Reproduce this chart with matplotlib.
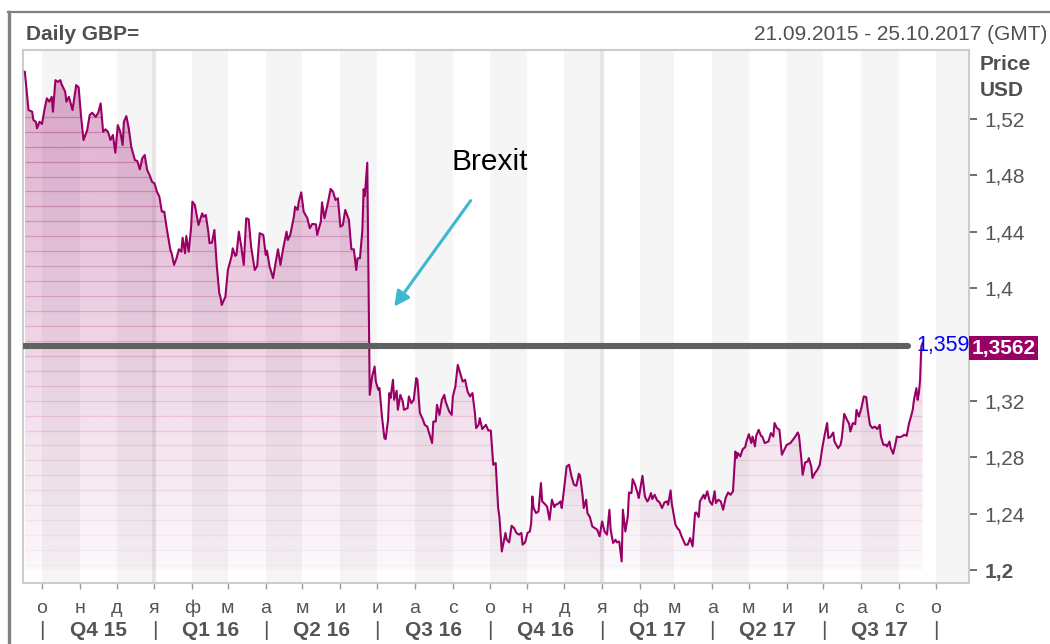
import numpy as np
import matplotlib
matplotlib.use('Agg')
import matplotlib.pyplot as plt
import matplotlib.transforms as mtransforms
from matplotlib.lines import Line2D
from matplotlib.patches import Polygon

plt.rcParams['font.family'] = ['Liberation Sans', 'DejaVu Sans']

# ---------------- data ----------------
START = np.datetime64('2015-10-01')   # day offsets below are relative to this date
day_offset = [-14, -11, -8, -7, -5, -4, -2, 0, 2, 4, 6, 8, 9, 11, 13, 15, 16, 19, 20, 22,
              25, 28, 30, 32, 34, 37, 39, 41, 44, 46, 48, 50, 52, 54, 56, 58, 60, 62, 64, 66,
              67, 69, 71, 73, 76, 78, 80, 82, 84, 86, 88, 90, 92, 94, 96, 98, 100, 102, 105, 106,
              108, 110, 112, 114, 115, 117, 118, 120, 122, 123, 125, 128, 131, 132, 134, 136, 137, 139, 141, 143,
              145, 146, 147, 150, 152, 155, 156, 158, 159, 161, 163, 165, 167, 169, 171, 174, 176, 178, 181, 183,
              184, 186, 189, 191, 193, 195, 197, 200, 201, 203, 206, 207, 209, 210, 212, 214, 217, 219, 221, 224,
              225, 228, 229, 231, 234, 236, 238, 240, 242, 244, 246, 248, 251, 253, 255, 257, 258, 260, 262, 263,
              264, 266, 268, 270, 272, 273, 275, 276, 278, 280, 281, 283, 284, 285, 287, 288, 290, 291, 293, 295,
              296, 299, 300, 302, 304, 306, 307, 309, 311, 313, 315, 317, 319, 320, 322, 323, 325, 327, 329, 330,
              333, 335, 336, 338, 340, 342, 344, 346, 348, 350, 352, 354, 355, 357, 358, 360, 363, 365, 367, 369,
              371, 373, 374, 376, 379, 380, 382, 384, 386, 388, 390, 392, 393, 395, 397, 399, 400, 401, 402, 404,
              406, 408, 409, 411, 413, 415, 417, 419, 420, 422, 424, 425, 427, 429, 431, 433, 435, 437, 439, 440,
              442, 443, 445, 446, 448, 450, 452, 454, 456, 458, 460, 462, 464, 465, 467, 469, 470, 472, 474, 475,
              477, 479, 480, 482, 483, 485, 487, 488, 491, 493, 495, 496, 498, 499, 501, 503, 505, 507, 509, 511,
              512, 514, 515, 518, 520, 521, 523, 526, 528, 530, 532, 534, 535, 537, 538, 541, 542, 544, 546, 548,
              550, 551, 553, 555, 557, 559, 561, 563, 565, 567, 568, 569, 571, 573, 575, 576, 578, 580, 581, 583,
              584, 586, 588, 589, 591, 594, 596, 598, 599, 601, 603, 605, 607, 609, 612, 614, 616, 618, 619, 621,
              622, 624, 626, 627, 629, 630, 632, 634, 636, 638, 640, 642, 643, 645, 647, 648, 651, 653, 654, 656,
              658, 660, 661, 663, 665, 666, 668, 670, 672, 674, 675, 677, 679, 681, 683, 685, 686, 688, 690, 691,
              693, 694, 696, 698, 699, 701, 703, 705, 707, 709, 710, 712, 713, 715, 716, 717, 718, 719, 720]
price = [1.5535, 1.5264, 1.5252, 1.5193, 1.5181, 1.5134, 1.5181, 1.5165, 1.5264, 1.5347, 1.5323, 1.5358, 1.5252, 1.5476, 1.5464, 1.5476, 1.5448, 1.5394, 1.5323, 1.5358,
         1.5264, 1.5441, 1.5425, 1.5216, 1.5051, 1.5122, 1.5228, 1.5245, 1.5216, 1.5245, 1.5311, 1.5110, 1.5127, 1.5110, 1.5051, 1.5087, 1.4961, 1.5157, 1.5110, 1.5016,
         1.5181, 1.5221, 1.5134, 1.5004, 1.4909, 1.4902, 1.4843, 1.4921, 1.4945, 1.4838, 1.4803, 1.4755, 1.4744, 1.4685, 1.4649, 1.4543, 1.4543, 1.4425, 1.4271, 1.4248,
         1.4165, 1.4212, 1.4276, 1.4259, 1.4358, 1.4248, 1.4370, 1.4259, 1.4436, 1.4614, 1.4590, 1.4448, 1.4531, 1.4507, 1.4519, 1.4401, 1.4319, 1.4323, 1.4413, 1.4153,
         1.3964, 1.3936, 1.3881, 1.3940, 1.4129, 1.4224, 1.4283, 1.4229, 1.4236, 1.4401, 1.4295, 1.4165, 1.4496, 1.4489, 1.4295, 1.4129, 1.4158, 1.4390, 1.4378, 1.4236,
         1.4266, 1.4158, 1.4071, 1.4177, 1.4276, 1.4165, 1.4271, 1.4401, 1.4342, 1.4378, 1.4507, 1.4578, 1.4555, 1.4614, 1.4680, 1.4543, 1.4496, 1.4425, 1.4456, 1.4453,
         1.4378, 1.4472, 1.4609, 1.4496, 1.4614, 1.4704, 1.4685, 1.4626, 1.4638, 1.4436, 1.4448, 1.4555, 1.4484, 1.4276, 1.4276, 1.4129, 1.4212, 1.4212, 1.4413, 1.4702,
         1.4654, 1.4890, 1.3243, 1.3373, 1.3444, 1.3337, 1.3279, 1.3291, 1.3089, 1.2936, 1.2929, 1.3066, 1.3255, 1.3220, 1.3350, 1.3208, 1.3272, 1.3137, 1.3243, 1.3196,
         1.3137, 1.3149, 1.3232, 1.3184, 1.3208, 1.3362, 1.3350, 1.3114, 1.3078, 1.3030, 1.3018, 1.2960, 1.2901, 1.3054, 1.3054, 1.3172, 1.3101, 1.3208, 1.3243, 1.3196,
         1.3125, 1.3101, 1.3232, 1.3302, 1.3456, 1.3397, 1.3337, 1.3350, 1.3267, 1.3232, 1.3256, 1.3113, 1.3007, 1.3030, 1.3078, 1.3000, 1.3030, 1.2990, 1.2990, 1.2747,
         1.2759, 1.2440, 1.2380, 1.2132, 1.2263, 1.2215, 1.2196, 1.2314, 1.2298, 1.2263, 1.2251, 1.2263, 1.2180, 1.2196, 1.2263, 1.2274, 1.2333, 1.2522, 1.2440, 1.2404,
         1.2416, 1.2617, 1.2487, 1.2470, 1.2451, 1.2357, 1.2499, 1.2447, 1.2463, 1.2470, 1.2487, 1.2440, 1.2582, 1.2735, 1.2747, 1.2664, 1.2605, 1.2598, 1.2683, 1.2669,
         1.2534, 1.2440, 1.2499, 1.2404, 1.2376, 1.2309, 1.2298, 1.2286, 1.2239, 1.2345, 1.2274, 1.2251, 1.2428, 1.2286, 1.2192, 1.2215, 1.2196, 1.2203, 1.2061, 1.2428,
         1.2274, 1.2380, 1.2550, 1.2546, 1.2645, 1.2605, 1.2546, 1.2511, 1.2669, 1.2522, 1.2487, 1.2499, 1.2546, 1.2504, 1.2534, 1.2494, 1.2480, 1.2440, 1.2480, 1.2487,
         1.2463, 1.2565, 1.2470, 1.2321, 1.2291, 1.2286, 1.2239, 1.2180, 1.2180, 1.2227, 1.2168, 1.2404, 1.2409, 1.2376, 1.2487, 1.2534, 1.2506, 1.2559, 1.2487, 1.2463,
         1.2559, 1.2475, 1.2499, 1.2487, 1.2428, 1.2511, 1.2550, 1.2534, 1.2558, 1.2841, 1.2794, 1.2830, 1.2806, 1.2858, 1.2872, 1.2912, 1.2964, 1.2901, 1.2947, 1.2877,
         1.2952, 1.2995, 1.2952, 1.2947, 1.2901, 1.2912, 1.2972, 1.2947, 1.3043, 1.3007, 1.2995, 1.2818, 1.2853, 1.2889, 1.2901, 1.2924, 1.2947, 1.2976, 1.2952, 1.2782,
         1.2676, 1.2763, 1.2770, 1.2794, 1.2735, 1.2653, 1.2688, 1.2711, 1.2747, 1.2865, 1.2960, 1.3043, 1.2936, 1.2947, 1.2976, 1.2912, 1.2865, 1.2889, 1.2936, 1.3108,
         1.3071, 1.3037, 1.2983, 1.3043, 1.3035, 1.3137, 1.3089, 1.3149, 1.3232, 1.3227, 1.3149, 1.3030, 1.3007, 1.3018, 1.3000, 1.3030, 1.2947, 1.2889, 1.2889, 1.2877,
         1.2912, 1.2865, 1.2825, 1.2901, 1.2947, 1.2943, 1.2947, 1.2960, 1.2952, 1.3043, 1.3071, 1.3137, 1.3208, 1.3291, 1.3208, 1.3255, 1.3350, 1.3586, 1.3612]

month_letters = ['о', 'н', 'д', 'я', 'ф', 'м', 'а', 'м', 'и', 'и', 'а', 'с']   # Oct .. Sep
quarter_labels = ['Q4 15', 'Q1 16', 'Q2 16', 'Q3 16', 'Q4 16', 'Q1 17', 'Q2 17', 'Q3 17']
y_ticks = [1.20, 1.24, 1.28, 1.32, 1.36, 1.40, 1.44, 1.48, 1.52]
y_tick_labels = ['1,2', '1,24', '1,28', '1,32', '', '1,4', '1,44', '1,48', '1,52']
ref_level = 1.359
ref_label = '1,359'
last_price = 1.3562
last_price_label = '1,3562'
title = 'Daily GBP='
date_range = '21.09.2015 - 25.10.2017 (GMT)'
annot_text = 'Brexit'

# ---------------- derived ----------------
x = np.array(day_offset, dtype=float)
y = np.array(price)
months = np.arange(np.datetime64('2015-10'), np.datetime64('2017-11'), dtype='datetime64[M]')
month_off = (months.astype('datetime64[D]') - START).astype(int)
month_idx = (months.astype(int) % 12)           # 0 = Jan
# month_letters starts at October (index 9)
month_lbls = [month_letters[(int(m) - 9) % 12] for m in month_idx]

W, H = 1050, 644
fig = plt.figure(figsize=(W / 100, H / 100), dpi=100)
fig.patch.set_facecolor('white')
ax = fig.add_axes([23 / W, 1 - 583 / H, (969 - 23) / W, (583 - 50) / H])
XL = (-15.5, 758)
YL = (1.1908, 1.569)

MAROON = '#990066'
TXT = '#555555'

# month stripes
for i, m in enumerate(month_off):
    nxt = month_off[i + 1] if i + 1 < len(month_off) else XL[1]
    if i % 2 == 0:
        ax.axvspan(m, nxt, color='#f5f5f5', lw=0, zorder=0)
for m, mi in zip(month_off, month_idx):
    if mi == 0:
        ax.axvline(m, color='#e6e6e6', lw=3, zorder=0.5)

# gradient fill under the line
base = 1.2
verts = [(x[0], base)] + list(zip(x, y)) + [(x[-1], base)]
poly = Polygon(verts, closed=True, facecolor='none', edgecolor='none')
ax.add_patch(poly)
ys = np.linspace(base, 1.56, 400)
alpha = np.clip(0.03 + (ys - base) * 0.85, 0, 0.4)
img = np.zeros((len(ys), 1, 4))
img[..., 0], img[..., 1], img[..., 2] = 0.60, 0.0, 0.40
img[:, 0, 3] = alpha
im = ax.imshow(img, extent=[x[0], x[-1], base, 1.56], origin='lower', aspect='auto',
               interpolation='bilinear', zorder=1)
im.set_clip_path(poly)
for lv in np.arange(1.5216, base, -0.0106):
    a = float(np.clip(0.03 + (lv - base) * 0.85, 0, 0.4))
    hl = ax.hlines(lv, x[0], x[-1], color=MAROON, alpha=a, lw=0.9, zorder=1.5)
    hl.set_clip_path(poly)

# price line
ax.plot(x, y, color=MAROON, lw=1.5, zorder=3, solid_joinstyle='round')

# reference horizontal line
ax.plot([XL[0], 708], [ref_level, ref_level], color='#606060', lw=4.4,
        solid_capstyle='round', zorder=4)
ax.text(715, ref_level, ref_label, color='#0000ff', fontsize=15.5, va='center', ha='left', zorder=5)

# last price box
blend_y = mtransforms.blended_transform_factory(ax.transAxes, ax.transData)
ax.text(1.003, last_price + 0.0012, last_price_label, transform=blend_y, color='white',
        fontsize=15, fontweight='bold', va='center', ha='left', clip_on=False, zorder=10,
        bbox=dict(boxstyle='square,pad=0.12', fc=MAROON, ec='none'))

# Brexit annotation
ax.annotate('', xy=(288, 1.3869), xytext=(350.5, 1.4621),
            arrowprops=dict(arrowstyle='-|>,head_length=0.9,head_width=0.45',
                            color='#3cb8d0', lw=2.2, shrinkA=0, shrinkB=0), zorder=6)
ax.text(366, 1.4895, annot_text, fontsize=21.5, ha='center', va='center', color='black', zorder=6)

ax.set_xlim(*XL)
ax.set_ylim(*YL)

# y axis on right
ax.yaxis.tick_right()
ax.set_yticks(y_ticks)
ax.set_yticklabels(y_tick_labels)
ax.tick_params(axis='y', length=6, width=1.2, color=TXT, pad=5, labelsize=15, labelcolor=TXT)
ax.get_yticklabels()[0].set_fontweight('bold')

# x axis months
ax.set_xticks(month_off)
ax.set_xticklabels(month_lbls)
ax.tick_params(axis='x', length=4, width=1, color='#999999', pad=8, labelsize=14, labelcolor=TXT)

# quarter row
blend_x = mtransforms.blended_transform_factory(ax.transData, ax.transAxes)
q_bounds = month_off[::3]
qy = -(631 - 583) / (583 - 50)
for b in q_bounds:
    ax.text(b, qy, '|', transform=blend_x, ha='center', va='center', fontsize=15,
            color=TXT, clip_on=False)
for lbl, a0, a1 in zip(quarter_labels, q_bounds[:-1], q_bounds[1:]):
    ax.text((a0 + a1) / 2, qy, lbl, transform=blend_x, ha='center', va='center',
            fontsize=15, fontweight='bold', color=TXT, clip_on=False)

for s in ax.spines.values():
    s.set_color('#cccccc')
    s.set_linewidth(1.5)

# outer frame and header
fig.add_artist(Line2D([9 / W, 9 / W], [0, 1 - 12 / H], transform=fig.transFigure, color='#808080', lw=2.4))
fig.add_artist(Line2D([8 / W, 1], [1 - 12 / H, 1 - 12 / H], transform=fig.transFigure, color='#808080', lw=1.6))
fig.text(26 / W, 1 - 34 / H, title, fontsize=15, fontweight='bold', color='#505050', va='center', ha='left')
fig.text(1047 / W, 1 - 34 / H, date_range, fontsize=15, color='#505050', va='center', ha='right')
fig.text(980 / W, 1 - 64 / H, 'Price', fontsize=15, fontweight='bold', color='#505050', va='center', ha='left')
fig.text(980 / W, 1 - 91 / H, 'USD', fontsize=15, fontweight='bold', color='#505050', va='center', ha='left')

fig.savefig('out.png', dpi=100)
